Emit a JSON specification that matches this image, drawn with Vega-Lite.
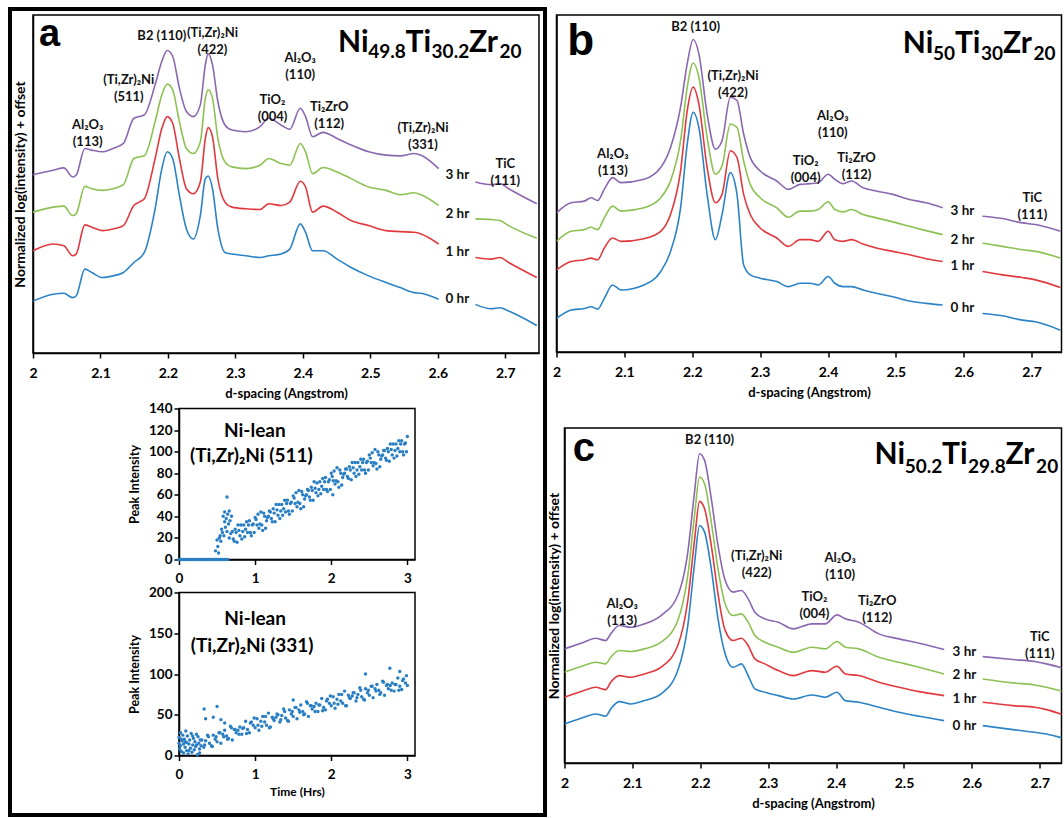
{
"$schema": "https://vega.github.io/schema/vega-lite/v6.json",
"padding": {"left": 7, "top": 6, "right": 0, "bottom": 0},
"background": "white",
"config": {
  "font": "Lato",
  "view": {"stroke": "#000", "strokeWidth": 1.5},
  "axis": {"grid": false, "domainColor": "#000", "domainWidth": 1.5, "tickColor": "#000", "tickWidth": 1.5, "labelColor": "#000", "titleColor": "#000", "labelFont": "Lato", "titleFont": "Lato", "labelFontWeight": "bold", "titleFontWeight": "bold"},
  "text": {"font": "Lato", "fontWeight": "bold", "color": "#111"}
},
"datasets": {
"curves": [
{"p":"a","h":3,"s":1,"d":2,"y":53.2},{"p":"a","h":3,"s":1,"d":2.03,"y":54.5},{"p":"a","h":3,"s":1,"d":2.0457,"y":55.2},{"p":"a","h":3,"s":1,"d":2.0587,"y":52.5},{"p":"a","h":3,"s":1,"d":2.0639,"y":53},{"p":"a","h":3,"s":1,"d":2.0769,"y":61},{"p":"a","h":3,"s":1,"d":2.0872,"y":60.5},{"p":"a","h":3,"s":1,"d":2.1028,"y":60},{"p":"a","h":3,"s":1,"d":2.1184,"y":61},{"p":"a","h":3,"s":1,"d":2.134,"y":62.5},{"p":"a","h":3,"s":1,"d":2.1495,"y":70},{"p":"a","h":3,"s":1,"d":2.1573,"y":70.5},{"p":"a","h":3,"s":1,"d":2.165,"y":71},{"p":"a","h":3,"s":1,"d":2.181,"y":80},{"p":"a","h":3,"s":1,"d":2.191,"y":87},{"p":"a","h":3,"s":1,"d":2.199,"y":90.2},{"p":"a","h":3,"s":1,"d":2.207,"y":88.5},{"p":"a","h":3,"s":1,"d":2.217,"y":79},{"p":"a","h":3,"s":1,"d":2.2274,"y":72},{"p":"a","h":3,"s":1,"d":2.2378,"y":70.5},{"p":"a","h":3,"s":1,"d":2.248,"y":74},{"p":"a","h":3,"s":1,"d":2.2555,"y":86},{"p":"a","h":3,"s":1,"d":2.2596,"y":89.2},{"p":"a","h":3,"s":1,"d":2.266,"y":86},{"p":"a","h":3,"s":1,"d":2.274,"y":75},{"p":"a","h":3,"s":1,"d":2.2845,"y":68},{"p":"a","h":3,"s":1,"d":2.295,"y":66.5},{"p":"a","h":3,"s":1,"d":2.3157,"y":66},{"p":"a","h":3,"s":1,"d":2.3365,"y":67.5},{"p":"a","h":3,"s":1,"d":2.3495,"y":70},{"p":"a","h":3,"s":1,"d":2.3676,"y":68},{"p":"a","h":3,"s":1,"d":2.3806,"y":66.7},{"p":"a","h":3,"s":1,"d":2.3962,"y":73},{"p":"a","h":3,"s":1,"d":2.404,"y":70.5},{"p":"a","h":3,"s":1,"d":2.4144,"y":64.5},{"p":"a","h":3,"s":1,"d":2.43,"y":65.8},{"p":"a","h":3,"s":1,"d":2.4507,"y":64},{"p":"a","h":3,"s":1,"d":2.4715,"y":62},{"p":"a","h":3,"s":1,"d":2.4975,"y":60},{"p":"a","h":3,"s":1,"d":2.5234,"y":59},{"p":"a","h":3,"s":1,"d":2.5442,"y":58.8},{"p":"a","h":3,"s":1,"d":2.565,"y":59.5},{"p":"a","h":3,"s":1,"d":2.5753,"y":59},{"p":"a","h":3,"s":1,"d":2.6013,"y":55},
{"p":"a","h":3,"s":2,"d":2.6558,"y":51},{"p":"a","h":3,"s":2,"d":2.679,"y":50.2},{"p":"a","h":3,"s":2,"d":2.692,"y":50.5},{"p":"a","h":3,"s":2,"d":2.705,"y":49},{"p":"a","h":3,"s":2,"d":2.7467,"y":44.5},
{"p":"a","h":2,"s":1,"d":2,"y":42},{"p":"a","h":2,"s":1,"d":2.03,"y":43.5},{"p":"a","h":2,"s":1,"d":2.0457,"y":43.8},{"p":"a","h":2,"s":1,"d":2.0587,"y":41},{"p":"a","h":2,"s":1,"d":2.0639,"y":41.5},{"p":"a","h":2,"s":1,"d":2.0769,"y":49.7},{"p":"a","h":2,"s":1,"d":2.0872,"y":49},{"p":"a","h":2,"s":1,"d":2.1028,"y":48.5},{"p":"a","h":2,"s":1,"d":2.1184,"y":49},{"p":"a","h":2,"s":1,"d":2.134,"y":50.2},{"p":"a","h":2,"s":1,"d":2.1495,"y":58},{"p":"a","h":2,"s":1,"d":2.1573,"y":58.5},{"p":"a","h":2,"s":1,"d":2.165,"y":58.8},{"p":"a","h":2,"s":1,"d":2.181,"y":69},{"p":"a","h":2,"s":1,"d":2.191,"y":77},{"p":"a","h":2,"s":1,"d":2.199,"y":80.2},{"p":"a","h":2,"s":1,"d":2.207,"y":78.5},{"p":"a","h":2,"s":1,"d":2.217,"y":69},{"p":"a","h":2,"s":1,"d":2.2274,"y":61},{"p":"a","h":2,"s":1,"d":2.2378,"y":59.5},{"p":"a","h":2,"s":1,"d":2.248,"y":63},{"p":"a","h":2,"s":1,"d":2.2555,"y":76},{"p":"a","h":2,"s":1,"d":2.2596,"y":78.5},{"p":"a","h":2,"s":1,"d":2.266,"y":76},{"p":"a","h":2,"s":1,"d":2.274,"y":64},{"p":"a","h":2,"s":1,"d":2.2845,"y":57},{"p":"a","h":2,"s":1,"d":2.295,"y":55.5},{"p":"a","h":2,"s":1,"d":2.3157,"y":55},{"p":"a","h":2,"s":1,"d":2.3365,"y":56},{"p":"a","h":2,"s":1,"d":2.3495,"y":58},{"p":"a","h":2,"s":1,"d":2.3676,"y":56.5},{"p":"a","h":2,"s":1,"d":2.3806,"y":56},{"p":"a","h":2,"s":1,"d":2.3962,"y":62.5},{"p":"a","h":2,"s":1,"d":2.404,"y":60},{"p":"a","h":2,"s":1,"d":2.4144,"y":53.5},{"p":"a","h":2,"s":1,"d":2.43,"y":55.3},{"p":"a","h":2,"s":1,"d":2.4507,"y":54},{"p":"a","h":2,"s":1,"d":2.4715,"y":52},{"p":"a","h":2,"s":1,"d":2.4975,"y":49.5},{"p":"a","h":2,"s":1,"d":2.5234,"y":48.5},{"p":"a","h":2,"s":1,"d":2.5442,"y":47.2},{"p":"a","h":2,"s":1,"d":2.565,"y":47.8},{"p":"a","h":2,"s":1,"d":2.5753,"y":47.2},{"p":"a","h":2,"s":1,"d":2.6013,"y":44},
{"p":"a","h":2,"s":2,"d":2.6558,"y":40},{"p":"a","h":2,"s":2,"d":2.679,"y":39.8},{"p":"a","h":2,"s":2,"d":2.692,"y":39.5},{"p":"a","h":2,"s":2,"d":2.705,"y":38},{"p":"a","h":2,"s":2,"d":2.7467,"y":34.2},
{"p":"a","h":1,"s":1,"d":2,"y":30.5},{"p":"a","h":1,"s":1,"d":2.03,"y":32.5},{"p":"a","h":1,"s":1,"d":2.0457,"y":32},{"p":"a","h":1,"s":1,"d":2.0587,"y":29},{"p":"a","h":1,"s":1,"d":2.0639,"y":29.5},{"p":"a","h":1,"s":1,"d":2.0769,"y":38.2},{"p":"a","h":1,"s":1,"d":2.0872,"y":37.5},{"p":"a","h":1,"s":1,"d":2.1028,"y":36.5},{"p":"a","h":1,"s":1,"d":2.1184,"y":37},{"p":"a","h":1,"s":1,"d":2.134,"y":38},{"p":"a","h":1,"s":1,"d":2.1495,"y":44},{"p":"a","h":1,"s":1,"d":2.1573,"y":45},{"p":"a","h":1,"s":1,"d":2.165,"y":46},{"p":"a","h":1,"s":1,"d":2.181,"y":58},{"p":"a","h":1,"s":1,"d":2.191,"y":67},{"p":"a","h":1,"s":1,"d":2.199,"y":70.5},{"p":"a","h":1,"s":1,"d":2.207,"y":68.5},{"p":"a","h":1,"s":1,"d":2.217,"y":58},{"p":"a","h":1,"s":1,"d":2.2274,"y":49},{"p":"a","h":1,"s":1,"d":2.2378,"y":47.5},{"p":"a","h":1,"s":1,"d":2.248,"y":51},{"p":"a","h":1,"s":1,"d":2.2555,"y":64},{"p":"a","h":1,"s":1,"d":2.2596,"y":67.2},{"p":"a","h":1,"s":1,"d":2.266,"y":64.5},{"p":"a","h":1,"s":1,"d":2.274,"y":52},{"p":"a","h":1,"s":1,"d":2.2845,"y":45},{"p":"a","h":1,"s":1,"d":2.295,"y":43.5},{"p":"a","h":1,"s":1,"d":2.3157,"y":43},{"p":"a","h":1,"s":1,"d":2.3365,"y":42.8},{"p":"a","h":1,"s":1,"d":2.3495,"y":44.5},{"p":"a","h":1,"s":1,"d":2.3676,"y":44},{"p":"a","h":1,"s":1,"d":2.3806,"y":45},{"p":"a","h":1,"s":1,"d":2.3962,"y":51.2},{"p":"a","h":1,"s":1,"d":2.404,"y":49.5},{"p":"a","h":1,"s":1,"d":2.4144,"y":42},{"p":"a","h":1,"s":1,"d":2.43,"y":43.8},{"p":"a","h":1,"s":1,"d":2.4507,"y":42},{"p":"a","h":1,"s":1,"d":2.4715,"y":39.5},{"p":"a","h":1,"s":1,"d":2.4975,"y":38},{"p":"a","h":1,"s":1,"d":2.5234,"y":36.5},{"p":"a","h":1,"s":1,"d":2.5442,"y":36.2},{"p":"a","h":1,"s":1,"d":2.565,"y":36},{"p":"a","h":1,"s":1,"d":2.5753,"y":35.5},{"p":"a","h":1,"s":1,"d":2.6013,"y":32.5},
{"p":"a","h":1,"s":2,"d":2.6558,"y":28.5},{"p":"a","h":1,"s":2,"d":2.679,"y":28},{"p":"a","h":1,"s":2,"d":2.692,"y":28.5},{"p":"a","h":1,"s":2,"d":2.705,"y":27},{"p":"a","h":1,"s":2,"d":2.7467,"y":22.5},
{"p":"a","h":0,"s":1,"d":2,"y":15.5},{"p":"a","h":0,"s":1,"d":2.03,"y":17.5},{"p":"a","h":0,"s":1,"d":2.0457,"y":17.8},{"p":"a","h":0,"s":1,"d":2.0587,"y":16.5},{"p":"a","h":0,"s":1,"d":2.0639,"y":17},{"p":"a","h":0,"s":1,"d":2.0769,"y":25},{"p":"a","h":0,"s":1,"d":2.0872,"y":24},{"p":"a","h":0,"s":1,"d":2.1028,"y":22.5},{"p":"a","h":0,"s":1,"d":2.1184,"y":23},{"p":"a","h":0,"s":1,"d":2.134,"y":24},{"p":"a","h":0,"s":1,"d":2.1495,"y":27},{"p":"a","h":0,"s":1,"d":2.165,"y":30},{"p":"a","h":0,"s":1,"d":2.181,"y":43},{"p":"a","h":0,"s":1,"d":2.191,"y":55},{"p":"a","h":0,"s":1,"d":2.199,"y":60},{"p":"a","h":0,"s":1,"d":2.207,"y":58},{"p":"a","h":0,"s":1,"d":2.217,"y":47},{"p":"a","h":0,"s":1,"d":2.2274,"y":37},{"p":"a","h":0,"s":1,"d":2.2378,"y":34},{"p":"a","h":0,"s":1,"d":2.248,"y":41},{"p":"a","h":0,"s":1,"d":2.2555,"y":52},{"p":"a","h":0,"s":1,"d":2.2596,"y":52.8},{"p":"a","h":0,"s":1,"d":2.266,"y":49},{"p":"a","h":0,"s":1,"d":2.274,"y":37},{"p":"a","h":0,"s":1,"d":2.2845,"y":30},{"p":"a","h":0,"s":1,"d":2.295,"y":29.5},{"p":"a","h":0,"s":1,"d":2.3157,"y":29},{"p":"a","h":0,"s":1,"d":2.3365,"y":28.5},{"p":"a","h":0,"s":1,"d":2.3495,"y":29},{"p":"a","h":0,"s":1,"d":2.3676,"y":29.5},{"p":"a","h":0,"s":1,"d":2.3806,"y":31},{"p":"a","h":0,"s":1,"d":2.3962,"y":38.5},{"p":"a","h":0,"s":1,"d":2.404,"y":36},{"p":"a","h":0,"s":1,"d":2.4144,"y":30.5},{"p":"a","h":0,"s":1,"d":2.43,"y":30.5},{"p":"a","h":0,"s":1,"d":2.4507,"y":28},{"p":"a","h":0,"s":1,"d":2.4715,"y":25.5},{"p":"a","h":0,"s":1,"d":2.4975,"y":23},{"p":"a","h":0,"s":1,"d":2.5234,"y":21},{"p":"a","h":0,"s":1,"d":2.5442,"y":19.5},{"p":"a","h":0,"s":1,"d":2.565,"y":18},{"p":"a","h":0,"s":1,"d":2.5753,"y":17.8},{"p":"a","h":0,"s":1,"d":2.6013,"y":16},
{"p":"a","h":0,"s":2,"d":2.6558,"y":14.5},{"p":"a","h":0,"s":2,"d":2.679,"y":13.2},{"p":"a","h":0,"s":2,"d":2.692,"y":13.5},{"p":"a","h":0,"s":2,"d":2.705,"y":12.5},{"p":"a","h":0,"s":2,"d":2.7467,"y":8.2},

{"p":"b","h":3,"s":1,"d":2,"y":41.5},{"p":"b","h":3,"s":1,"d":2.0215,"y":44.5},{"p":"b","h":3,"s":1,"d":2.041,"y":45},{"p":"b","h":3,"s":1,"d":2.0508,"y":46},{"p":"b","h":3,"s":1,"d":2.0606,"y":45.2},{"p":"b","h":3,"s":1,"d":2.0704,"y":48.5},{"p":"b","h":3,"s":1,"d":2.0826,"y":52},{"p":"b","h":3,"s":1,"d":2.0948,"y":50.5},{"p":"b","h":3,"s":1,"d":2.129,"y":51.5},{"p":"b","h":3,"s":1,"d":2.1535,"y":55},{"p":"b","h":3,"s":1,"d":2.168,"y":61},{"p":"b","h":3,"s":1,"d":2.1828,"y":73},{"p":"b","h":3,"s":1,"d":2.1926,"y":86},{"p":"b","h":3,"s":1,"d":2.2014,"y":93.2},{"p":"b","h":3,"s":1,"d":2.2097,"y":89},{"p":"b","h":3,"s":1,"d":2.2219,"y":71},{"p":"b","h":3,"s":1,"d":2.2341,"y":60.5},{"p":"b","h":3,"s":1,"d":2.2439,"y":63},{"p":"b","h":3,"s":1,"d":2.2561,"y":76},{"p":"b","h":3,"s":1,"d":2.2659,"y":75},{"p":"b","h":3,"s":1,"d":2.2757,"y":65},{"p":"b","h":3,"s":1,"d":2.2854,"y":58},{"p":"b","h":3,"s":1,"d":2.3001,"y":54},{"p":"b","h":3,"s":1,"d":2.3245,"y":51},{"p":"b","h":3,"s":1,"d":2.3416,"y":48.5},{"p":"b","h":3,"s":1,"d":2.3587,"y":50},{"p":"b","h":3,"s":1,"d":2.3734,"y":50.2},{"p":"b","h":3,"s":1,"d":2.3856,"y":50.5},{"p":"b","h":3,"s":1,"d":2.4003,"y":53},{"p":"b","h":3,"s":1,"d":2.4101,"y":51.5},{"p":"b","h":3,"s":1,"d":2.4223,"y":50.2},{"p":"b","h":3,"s":1,"d":2.4345,"y":51},{"p":"b","h":3,"s":1,"d":2.4516,"y":49},{"p":"b","h":3,"s":1,"d":2.4712,"y":48},{"p":"b","h":3,"s":1,"d":2.4956,"y":47},{"p":"b","h":3,"s":1,"d":2.52,"y":45.5},{"p":"b","h":3,"s":1,"d":2.5445,"y":44.5},{"p":"b","h":3,"s":1,"d":2.5689,"y":43},
{"p":"b","h":3,"s":2,"d":2.6276,"y":40.5},{"p":"b","h":3,"s":2,"d":2.6569,"y":39.8},{"p":"b","h":3,"s":2,"d":2.6862,"y":38.5},{"p":"b","h":3,"s":2,"d":2.7058,"y":38},{"p":"b","h":3,"s":2,"d":2.7424,"y":36},
{"p":"b","h":2,"s":1,"d":2,"y":33},{"p":"b","h":2,"s":1,"d":2.0215,"y":36},{"p":"b","h":2,"s":1,"d":2.041,"y":36.5},{"p":"b","h":2,"s":1,"d":2.0508,"y":37.2},{"p":"b","h":2,"s":1,"d":2.0606,"y":36.5},{"p":"b","h":2,"s":1,"d":2.0704,"y":40},{"p":"b","h":2,"s":1,"d":2.0826,"y":43.5},{"p":"b","h":2,"s":1,"d":2.0948,"y":42},{"p":"b","h":2,"s":1,"d":2.129,"y":43},{"p":"b","h":2,"s":1,"d":2.1535,"y":46},{"p":"b","h":2,"s":1,"d":2.168,"y":51},{"p":"b","h":2,"s":1,"d":2.1828,"y":63},{"p":"b","h":2,"s":1,"d":2.1926,"y":79},{"p":"b","h":2,"s":1,"d":2.2014,"y":86.2},{"p":"b","h":2,"s":1,"d":2.2097,"y":82},{"p":"b","h":2,"s":1,"d":2.2219,"y":64},{"p":"b","h":2,"s":1,"d":2.2341,"y":53},{"p":"b","h":2,"s":1,"d":2.2439,"y":55.5},{"p":"b","h":2,"s":1,"d":2.2561,"y":68},{"p":"b","h":2,"s":1,"d":2.2659,"y":67},{"p":"b","h":2,"s":1,"d":2.2757,"y":57},{"p":"b","h":2,"s":1,"d":2.2854,"y":50},{"p":"b","h":2,"s":1,"d":2.3001,"y":46},{"p":"b","h":2,"s":1,"d":2.3245,"y":43},{"p":"b","h":2,"s":1,"d":2.3416,"y":40.2},{"p":"b","h":2,"s":1,"d":2.3587,"y":42},{"p":"b","h":2,"s":1,"d":2.3734,"y":42},{"p":"b","h":2,"s":1,"d":2.3856,"y":42.5},{"p":"b","h":2,"s":1,"d":2.4003,"y":44.8},{"p":"b","h":2,"s":1,"d":2.4101,"y":42.5},{"p":"b","h":2,"s":1,"d":2.4223,"y":41.8},{"p":"b","h":2,"s":1,"d":2.4345,"y":42.5},{"p":"b","h":2,"s":1,"d":2.4516,"y":41},{"p":"b","h":2,"s":1,"d":2.4712,"y":40},{"p":"b","h":2,"s":1,"d":2.4956,"y":38.8},{"p":"b","h":2,"s":1,"d":2.52,"y":37.5},{"p":"b","h":2,"s":1,"d":2.5445,"y":36.2},{"p":"b","h":2,"s":1,"d":2.5689,"y":35},
{"p":"b","h":2,"s":2,"d":2.6276,"y":32.5},{"p":"b","h":2,"s":2,"d":2.6569,"y":31.5},{"p":"b","h":2,"s":2,"d":2.6862,"y":30.5},{"p":"b","h":2,"s":2,"d":2.7058,"y":30},{"p":"b","h":2,"s":2,"d":2.7424,"y":28},
{"p":"b","h":1,"s":1,"d":2,"y":24.5},{"p":"b","h":1,"s":1,"d":2.0215,"y":27},{"p":"b","h":1,"s":1,"d":2.041,"y":27.5},{"p":"b","h":1,"s":1,"d":2.0508,"y":28},{"p":"b","h":1,"s":1,"d":2.0606,"y":27.5},{"p":"b","h":1,"s":1,"d":2.0704,"y":31},{"p":"b","h":1,"s":1,"d":2.0826,"y":34},{"p":"b","h":1,"s":1,"d":2.0948,"y":33},{"p":"b","h":1,"s":1,"d":2.129,"y":33.8},{"p":"b","h":1,"s":1,"d":2.1535,"y":36},{"p":"b","h":1,"s":1,"d":2.168,"y":41},{"p":"b","h":1,"s":1,"d":2.1828,"y":54},{"p":"b","h":1,"s":1,"d":2.1926,"y":72},{"p":"b","h":1,"s":1,"d":2.2014,"y":79},{"p":"b","h":1,"s":1,"d":2.2097,"y":74},{"p":"b","h":1,"s":1,"d":2.2219,"y":55},{"p":"b","h":1,"s":1,"d":2.2341,"y":44.5},{"p":"b","h":1,"s":1,"d":2.2439,"y":47},{"p":"b","h":1,"s":1,"d":2.2561,"y":60},{"p":"b","h":1,"s":1,"d":2.2659,"y":58},{"p":"b","h":1,"s":1,"d":2.2757,"y":47},{"p":"b","h":1,"s":1,"d":2.2854,"y":41},{"p":"b","h":1,"s":1,"d":2.3001,"y":37},{"p":"b","h":1,"s":1,"d":2.3245,"y":34},{"p":"b","h":1,"s":1,"d":2.3416,"y":31.5},{"p":"b","h":1,"s":1,"d":2.3587,"y":33.5},{"p":"b","h":1,"s":1,"d":2.3734,"y":33.5},{"p":"b","h":1,"s":1,"d":2.3856,"y":33},{"p":"b","h":1,"s":1,"d":2.4003,"y":36},{"p":"b","h":1,"s":1,"d":2.4101,"y":33.5},{"p":"b","h":1,"s":1,"d":2.4223,"y":33},{"p":"b","h":1,"s":1,"d":2.4345,"y":33.5},{"p":"b","h":1,"s":1,"d":2.4516,"y":32.2},{"p":"b","h":1,"s":1,"d":2.4712,"y":31},{"p":"b","h":1,"s":1,"d":2.4956,"y":30},{"p":"b","h":1,"s":1,"d":2.52,"y":29},{"p":"b","h":1,"s":1,"d":2.5445,"y":27.8},{"p":"b","h":1,"s":1,"d":2.5689,"y":27},
{"p":"b","h":1,"s":2,"d":2.6276,"y":24},{"p":"b","h":1,"s":2,"d":2.6569,"y":23},{"p":"b","h":1,"s":2,"d":2.6862,"y":22.2},{"p":"b","h":1,"s":2,"d":2.7058,"y":21.5},{"p":"b","h":1,"s":2,"d":2.7424,"y":19.2},
{"p":"b","h":0,"s":1,"d":2,"y":10},{"p":"b","h":0,"s":1,"d":2.0215,"y":12.5},{"p":"b","h":0,"s":1,"d":2.041,"y":13},{"p":"b","h":0,"s":1,"d":2.0508,"y":13.5},{"p":"b","h":0,"s":1,"d":2.0606,"y":12.8},{"p":"b","h":0,"s":1,"d":2.0704,"y":16},{"p":"b","h":0,"s":1,"d":2.0826,"y":20},{"p":"b","h":0,"s":1,"d":2.0948,"y":18.5},{"p":"b","h":0,"s":1,"d":2.129,"y":20},{"p":"b","h":0,"s":1,"d":2.1535,"y":24},{"p":"b","h":0,"s":1,"d":2.168,"y":30},{"p":"b","h":0,"s":1,"d":2.1828,"y":43},{"p":"b","h":0,"s":1,"d":2.1926,"y":62},{"p":"b","h":0,"s":1,"d":2.2014,"y":71.5},{"p":"b","h":0,"s":1,"d":2.2097,"y":67},{"p":"b","h":0,"s":1,"d":2.2219,"y":47},{"p":"b","h":0,"s":1,"d":2.2341,"y":33.5},{"p":"b","h":0,"s":1,"d":2.2439,"y":41},{"p":"b","h":0,"s":1,"d":2.2561,"y":53.5},{"p":"b","h":0,"s":1,"d":2.2659,"y":47},{"p":"b","h":0,"s":1,"d":2.2757,"y":26},{"p":"b","h":0,"s":1,"d":2.2854,"y":23},{"p":"b","h":0,"s":1,"d":2.3001,"y":22},{"p":"b","h":0,"s":1,"d":2.3245,"y":21},{"p":"b","h":0,"s":1,"d":2.3416,"y":19.5},{"p":"b","h":0,"s":1,"d":2.3587,"y":20.5},{"p":"b","h":0,"s":1,"d":2.3734,"y":20.5},{"p":"b","h":0,"s":1,"d":2.3856,"y":20},{"p":"b","h":0,"s":1,"d":2.4003,"y":22.5},{"p":"b","h":0,"s":1,"d":2.4101,"y":20.5},{"p":"b","h":0,"s":1,"d":2.4223,"y":19.5},{"p":"b","h":0,"s":1,"d":2.4345,"y":19.5},{"p":"b","h":0,"s":1,"d":2.4516,"y":18.5},{"p":"b","h":0,"s":1,"d":2.4712,"y":17.5},{"p":"b","h":0,"s":1,"d":2.4956,"y":16.5},{"p":"b","h":0,"s":1,"d":2.52,"y":15.2},{"p":"b","h":0,"s":1,"d":2.5445,"y":14.5},{"p":"b","h":0,"s":1,"d":2.5689,"y":14},
{"p":"b","h":0,"s":2,"d":2.6276,"y":11.5},{"p":"b","h":0,"s":2,"d":2.6569,"y":10.8},{"p":"b","h":0,"s":2,"d":2.6862,"y":9.5},{"p":"b","h":0,"s":2,"d":2.7058,"y":9},{"p":"b","h":0,"s":2,"d":2.7424,"y":6.5},

{"p":"c","h":3,"s":1,"d":2,"y":34.2},{"p":"c","h":3,"s":1,"d":2.0286,"y":36.2},{"p":"c","h":3,"s":1,"d":2.0459,"y":37.4},{"p":"c","h":3,"s":1,"d":2.0607,"y":36.7},{"p":"c","h":3,"s":1,"d":2.0681,"y":38.7},{"p":"c","h":3,"s":1,"d":2.0805,"y":41.2},{"p":"c","h":3,"s":1,"d":2.0977,"y":40.7},{"p":"c","h":3,"s":1,"d":2.1175,"y":41.7},{"p":"c","h":3,"s":1,"d":2.1422,"y":44.2},{"p":"c","h":3,"s":1,"d":2.1668,"y":50.2},{"p":"c","h":3,"s":1,"d":2.1816,"y":63.2},{"p":"c","h":3,"s":1,"d":2.1915,"y":81.2},{"p":"c","h":3,"s":1,"d":2.1989,"y":92.7},{"p":"c","h":3,"s":1,"d":2.2063,"y":90.7},{"p":"c","h":3,"s":1,"d":2.2162,"y":79.2},{"p":"c","h":3,"s":1,"d":2.2261,"y":65.2},{"p":"c","h":3,"s":1,"d":2.2359,"y":55.2},{"p":"c","h":3,"s":1,"d":2.2483,"y":51.2},{"p":"c","h":3,"s":1,"d":2.2606,"y":51.7},{"p":"c","h":3,"s":1,"d":2.2705,"y":49.2},{"p":"c","h":3,"s":1,"d":2.2804,"y":45.2},{"p":"c","h":3,"s":1,"d":2.2952,"y":43.2},{"p":"c","h":3,"s":1,"d":2.3149,"y":42.2},{"p":"c","h":3,"s":1,"d":2.3371,"y":40.2},{"p":"c","h":3,"s":1,"d":2.3643,"y":41.7},{"p":"c","h":3,"s":1,"d":2.384,"y":41.7},{"p":"c","h":3,"s":1,"d":2.4013,"y":44.4},{"p":"c","h":3,"s":1,"d":2.4136,"y":43.2},{"p":"c","h":3,"s":1,"d":2.4334,"y":42.2},{"p":"c","h":3,"s":1,"d":2.463,"y":38.7},{"p":"c","h":3,"s":1,"d":2.4926,"y":37.2},{"p":"c","h":3,"s":1,"d":2.5222,"y":35.9},{"p":"c","h":3,"s":1,"d":2.5592,"y":34},
{"p":"c","h":3,"s":2,"d":2.616,"y":31.9},{"p":"c","h":3,"s":2,"d":2.6604,"y":31},{"p":"c","h":3,"s":2,"d":2.6925,"y":30.4},{"p":"c","h":3,"s":2,"d":2.7098,"y":29.7},{"p":"c","h":3,"s":2,"d":2.7379,"y":28.2},
{"p":"c","h":2,"s":1,"d":2,"y":27.2},{"p":"c","h":2,"s":1,"d":2.0286,"y":29.2},{"p":"c","h":2,"s":1,"d":2.0459,"y":30.2},{"p":"c","h":2,"s":1,"d":2.0607,"y":29.7},{"p":"c","h":2,"s":1,"d":2.0681,"y":31.7},{"p":"c","h":2,"s":1,"d":2.0805,"y":33.7},{"p":"c","h":2,"s":1,"d":2.0977,"y":33.4},{"p":"c","h":2,"s":1,"d":2.1175,"y":34.2},{"p":"c","h":2,"s":1,"d":2.1422,"y":36.2},{"p":"c","h":2,"s":1,"d":2.1668,"y":42.7},{"p":"c","h":2,"s":1,"d":2.1816,"y":56.2},{"p":"c","h":2,"s":1,"d":2.1915,"y":74.2},{"p":"c","h":2,"s":1,"d":2.1989,"y":85.7},{"p":"c","h":2,"s":1,"d":2.2063,"y":83.7},{"p":"c","h":2,"s":1,"d":2.2162,"y":72.2},{"p":"c","h":2,"s":1,"d":2.2261,"y":58.2},{"p":"c","h":2,"s":1,"d":2.2359,"y":48.2},{"p":"c","h":2,"s":1,"d":2.2483,"y":44.2},{"p":"c","h":2,"s":1,"d":2.2606,"y":44.7},{"p":"c","h":2,"s":1,"d":2.2705,"y":42.2},{"p":"c","h":2,"s":1,"d":2.2804,"y":38.2},{"p":"c","h":2,"s":1,"d":2.2952,"y":36.2},{"p":"c","h":2,"s":1,"d":2.3149,"y":34.7},{"p":"c","h":2,"s":1,"d":2.3371,"y":33.2},{"p":"c","h":2,"s":1,"d":2.3643,"y":34.7},{"p":"c","h":2,"s":1,"d":2.384,"y":34.2},{"p":"c","h":2,"s":1,"d":2.4013,"y":36.4},{"p":"c","h":2,"s":1,"d":2.4136,"y":34.7},{"p":"c","h":2,"s":1,"d":2.4334,"y":34.2},{"p":"c","h":2,"s":1,"d":2.463,"y":31.7},{"p":"c","h":2,"s":1,"d":2.4926,"y":30.2},{"p":"c","h":2,"s":1,"d":2.5222,"y":28.7},{"p":"c","h":2,"s":1,"d":2.5592,"y":26.7},
{"p":"c","h":2,"s":2,"d":2.616,"y":25.2},{"p":"c","h":2,"s":2,"d":2.6604,"y":24},{"p":"c","h":2,"s":2,"d":2.6925,"y":23.4},{"p":"c","h":2,"s":2,"d":2.7098,"y":22.7},{"p":"c","h":2,"s":2,"d":2.7379,"y":21.2},
{"p":"c","h":1,"s":1,"d":2,"y":19.7},{"p":"c","h":1,"s":1,"d":2.0286,"y":21.7},{"p":"c","h":1,"s":1,"d":2.0459,"y":22.7},{"p":"c","h":1,"s":1,"d":2.0607,"y":22},{"p":"c","h":1,"s":1,"d":2.0681,"y":24.2},{"p":"c","h":1,"s":1,"d":2.0805,"y":26.2},{"p":"c","h":1,"s":1,"d":2.0977,"y":25.7},{"p":"c","h":1,"s":1,"d":2.1175,"y":26.7},{"p":"c","h":1,"s":1,"d":2.1422,"y":28.7},{"p":"c","h":1,"s":1,"d":2.1668,"y":35.2},{"p":"c","h":1,"s":1,"d":2.1816,"y":48.7},{"p":"c","h":1,"s":1,"d":2.1915,"y":66.7},{"p":"c","h":1,"s":1,"d":2.1989,"y":78.4},{"p":"c","h":1,"s":1,"d":2.2063,"y":76.2},{"p":"c","h":1,"s":1,"d":2.2162,"y":65.2},{"p":"c","h":1,"s":1,"d":2.2261,"y":50.7},{"p":"c","h":1,"s":1,"d":2.2359,"y":40.2},{"p":"c","h":1,"s":1,"d":2.2483,"y":36.7},{"p":"c","h":1,"s":1,"d":2.2606,"y":37.4},{"p":"c","h":1,"s":1,"d":2.2705,"y":35.2},{"p":"c","h":1,"s":1,"d":2.2804,"y":31.2},{"p":"c","h":1,"s":1,"d":2.2952,"y":29.7},{"p":"c","h":1,"s":1,"d":2.3149,"y":27.7},{"p":"c","h":1,"s":1,"d":2.3371,"y":26.2},{"p":"c","h":1,"s":1,"d":2.3643,"y":27.7},{"p":"c","h":1,"s":1,"d":2.384,"y":27.2},{"p":"c","h":1,"s":1,"d":2.4013,"y":29},{"p":"c","h":1,"s":1,"d":2.4136,"y":26.7},{"p":"c","h":1,"s":1,"d":2.4334,"y":26.2},{"p":"c","h":1,"s":1,"d":2.463,"y":24.2},{"p":"c","h":1,"s":1,"d":2.4926,"y":22.7},{"p":"c","h":1,"s":1,"d":2.5222,"y":21.4},{"p":"c","h":1,"s":1,"d":2.5592,"y":20.2},
{"p":"c","h":1,"s":2,"d":2.616,"y":18.2},{"p":"c","h":1,"s":2,"d":2.6604,"y":17.2},{"p":"c","h":1,"s":2,"d":2.6925,"y":16.7},{"p":"c","h":1,"s":2,"d":2.7098,"y":16},{"p":"c","h":1,"s":2,"d":2.7379,"y":14.2},
{"p":"c","h":0,"s":1,"d":2,"y":11.7},{"p":"c","h":0,"s":1,"d":2.0286,"y":13.7},{"p":"c","h":0,"s":1,"d":2.0459,"y":14.7},{"p":"c","h":0,"s":1,"d":2.0607,"y":14},{"p":"c","h":0,"s":1,"d":2.0681,"y":16.2},{"p":"c","h":0,"s":1,"d":2.0805,"y":18.4},{"p":"c","h":0,"s":1,"d":2.0977,"y":17.7},{"p":"c","h":0,"s":1,"d":2.1175,"y":18.7},{"p":"c","h":0,"s":1,"d":2.1422,"y":20.7},{"p":"c","h":0,"s":1,"d":2.1668,"y":27.7},{"p":"c","h":0,"s":1,"d":2.1816,"y":41.2},{"p":"c","h":0,"s":1,"d":2.1915,"y":59.7},{"p":"c","h":0,"s":1,"d":2.1989,"y":71.2},{"p":"c","h":0,"s":1,"d":2.2063,"y":69.2},{"p":"c","h":0,"s":1,"d":2.2162,"y":58.2},{"p":"c","h":0,"s":1,"d":2.2261,"y":43.2},{"p":"c","h":0,"s":1,"d":2.2359,"y":33.2},{"p":"c","h":0,"s":1,"d":2.2483,"y":28.7},{"p":"c","h":0,"s":1,"d":2.2606,"y":29.7},{"p":"c","h":0,"s":1,"d":2.2705,"y":26.2},{"p":"c","h":0,"s":1,"d":2.2804,"y":22.2},{"p":"c","h":0,"s":1,"d":2.2952,"y":21.2},{"p":"c","h":0,"s":1,"d":2.3149,"y":20.2},{"p":"c","h":0,"s":1,"d":2.3371,"y":19.2},{"p":"c","h":0,"s":1,"d":2.3643,"y":20.4},{"p":"c","h":0,"s":1,"d":2.384,"y":19.7},{"p":"c","h":0,"s":1,"d":2.4013,"y":21.2},{"p":"c","h":0,"s":1,"d":2.4136,"y":18.7},{"p":"c","h":0,"s":1,"d":2.4334,"y":18.2},{"p":"c","h":0,"s":1,"d":2.463,"y":16.7},{"p":"c","h":0,"s":1,"d":2.4926,"y":15.2},{"p":"c","h":0,"s":1,"d":2.5222,"y":14},{"p":"c","h":0,"s":1,"d":2.5592,"y":12.7},
{"p":"c","h":0,"s":2,"d":2.616,"y":11.2},{"p":"c","h":0,"s":2,"d":2.6604,"y":10},{"p":"c","h":0,"s":2,"d":2.6925,"y":9.2},{"p":"c","h":0,"s":2,"d":2.7098,"y":8.7},{"p":"c","h":0,"s":2,"d":2.7379,"y":7.2}
],
"labels": [
{"p":"a","d":2.191,"y":94.5,"txt":"B2 (110)"},
{"p":"a","d":2.266,"y":95.4,"txt":"(Ti,Zr)₂Ni\n(422)"},
{"p":"a","d":2.142,"y":81.4,"txt":"(Ti,Zr)₂Ni\n(511)"},
{"p":"a","d":2.081,"y":68,"txt":"Al₂O₃\n(113)"},
{"p":"a","d":2.355,"y":75.4,"txt":"TiO₂\n(004)"},
{"p":"a","d":2.396,"y":87.9,"txt":"Al₂O₃\n(110)"},
{"p":"a","d":2.439,"y":73.4,"txt":"Ti₂ZrO\n(112)"},
{"p":"a","d":2.578,"y":67.2,"txt":"(Ti,Zr)₂Ni\n(331)"},
{"p":"a","d":2.7,"y":56.3,"txt":"TiC\n(111)"},
{"p":"b","d":2.205,"y":97,"txt":"B2 (110)"},
{"p":"b","d":2.26,"y":82.4,"txt":"(Ti,Zr)₂Ni\n(422)"},
{"p":"b","d":2.083,"y":58.9,"txt":"Al₂O₃\n(113)"},
{"p":"b","d":2.367,"y":57,"txt":"TiO₂\n(004)"},
{"p":"b","d":2.407,"y":70.3,"txt":"Al₂O₃\n(110)"},
{"p":"b","d":2.442,"y":58,"txt":"Ti₂ZrO\n(112)"},
{"p":"b","d":2.701,"y":45.9,"txt":"TiC\n(111)"},
{"p":"c","d":2.2137,"y":96.7,"txt":"B2 (110)"},
{"p":"c","d":2.283,"y":62,"txt":"(Ti,Zr)₂Ni\n(422)"},
{"p":"c","d":2.085,"y":47.8,"txt":"Al₂O₃\n(113)"},
{"p":"c","d":2.368,"y":49.8,"txt":"TiO₂\n(004)"},
{"p":"c","d":2.406,"y":61.5,"txt":"Al₂O₃\n(110)"},
{"p":"c","d":2.4605,"y":48.6,"txt":"Ti₂ZrO\n(112)"},
{"p":"c","d":2.7,"y":37.7,"txt":"TiC\n(111)"}
],
"hrs": [
{"p":"a","d":2.629,"y":53,"txt":"3 hr"},{"p":"a","d":2.629,"y":41.5,"txt":"2 hr"},{"p":"a","d":2.629,"y":30,"txt":"1 hr"},{"p":"a","d":2.629,"y":16,"txt":"0 hr"},
{"p":"b","d":2.598,"y":42,"txt":"3 hr"},{"p":"b","d":2.598,"y":33.5,"txt":"2 hr"},{"p":"b","d":2.598,"y":25.5,"txt":"1 hr"},{"p":"b","d":2.598,"y":13,"txt":"0 hr"},
{"p":"c","d":2.589,"y":33.4,"txt":"3 hr"},{"p":"c","d":2.589,"y":26.4,"txt":"2 hr"},{"p":"c","d":2.589,"y":19.2,"txt":"1 hr"},{"p":"c","d":2.589,"y":11.2,"txt":"0 hr"}
],
"letters": [
{"p":"a","d":2.009,"y":91.6,"txt":"a"},{"p":"b","d":2.016,"y":88.6,"txt":"b"},{"p":"c","d":2.012,"y":90.5,"txt":"c"}
],
"tbig": [
{"p":"a","d":2.4521,"y":89.8,"txt":"Ni"},{"p":"a","d":2.5523,"y":89.8,"txt":"Ti"},{"p":"a","d":2.6462,"y":89.8,"txt":"Zr"},
{"p":"b","d":2.5102,"y":89.1,"txt":"Ni"},{"p":"b","d":2.5871,"y":89.1,"txt":"Ti"},{"p":"b","d":2.6578,"y":89.1,"txt":"Zr"},
{"p":"c","d":2.4566,"y":89.5,"txt":"Ni"},{"p":"c","d":2.5561,"y":89.5,"txt":"Ti"},{"p":"c","d":2.6495,"y":89.5,"txt":"Zr"}
],
"tsub": [
{"p":"a","d":2.4968,"y":88,"txt":"49.8"},{"p":"a","d":2.5908,"y":88,"txt":"30.2"},{"p":"a","d":2.6916,"y":88,"txt":"20"},
{"p":"b","d":2.5547,"y":87.1,"txt":"50"},{"p":"b","d":2.6254,"y":87.1,"txt":"30"},{"p":"b","d":2.7029,"y":87.1,"txt":"20"},
{"p":"c","d":2.501,"y":87,"txt":"50.2"},{"p":"c","d":2.5944,"y":87,"txt":"29.8"},{"p":"c","d":2.6946,"y":87,"txt":"20"}
],
"frame": [{"d":1.9659,"d2":2.7589,"y":-137.78,"y2":102.59}],
"sclab": [
{"p":"t","t":0.996,"v":113.4,"txt":"Ni-lean"},{"p":"t","t":0.95,"v":90.2,"txt":"(Ti,Zr)₂Ni (511)"},
{"p":"b","t":1.0,"v":160.7,"txt":"Ni-lean"},{"p":"b","t":0.96,"v":126.4,"txt":"(Ti,Zr)₂Ni (331)"}
],
"sc": [
{"p":"t","t":0,"v":0},{"p":"t","t":0.02,"v":0},{"p":"t","t":0.04,"v":0},{"p":"t","t":0.06,"v":0},{"p":"t","t":0.08,"v":0},{"p":"t","t":0.1,"v":0},{"p":"t","t":0.12,"v":0},{"p":"t","t":0.14,"v":0},{"p":"t","t":0.16,"v":0},{"p":"t","t":0.18,"v":0},{"p":"t","t":0.2,"v":0},{"p":"t","t":0.22,"v":0},{"p":"t","t":0.24,"v":0},{"p":"t","t":0.26,"v":0},{"p":"t","t":0.28,"v":0},{"p":"t","t":0.3,"v":0},{"p":"t","t":0.32,"v":0},{"p":"t","t":0.34,"v":0},{"p":"t","t":0.36,"v":0},{"p":"t","t":0.38,"v":0},{"p":"t","t":0.4,"v":0},{"p":"t","t":0.42,"v":0},{"p":"t","t":0.44,"v":0},{"p":"t","t":0.46,"v":0},{"p":"t","t":0.48,"v":0},{"p":"t","t":0.5,"v":0},{"p":"t","t":0.52,"v":0},{"p":"t","t":0.54,"v":0},{"p":"t","t":0.56,"v":0},{"p":"t","t":0.58,"v":0},{"p":"t","t":0.6,"v":0},{"p":"t","t":0.62,"v":0},{"p":"t","t":0.64,"v":0},
{"p":"t","t":0.48,"v":8},{"p":"t","t":0.5,"v":18},{"p":"t","t":0.51,"v":12},{"p":"t","t":0.52,"v":6},{"p":"t","t":0.53,"v":20},{"p":"t","t":0.54,"v":22},{"p":"t","t":0.55,"v":17},{"p":"t","t":0.56,"v":28},{"p":"t","t":0.57,"v":25},{"p":"t","t":0.58,"v":40},{"p":"t","t":0.59,"v":22},{"p":"t","t":0.6,"v":35},{"p":"t","t":0.6,"v":44},{"p":"t","t":0.61,"v":30},{"p":"t","t":0.62,"v":38},{"p":"t","t":0.63,"v":58},{"p":"t","t":0.63,"v":26},{"p":"t","t":0.64,"v":42},{"p":"t","t":0.65,"v":33},{"p":"t","t":0.66,"v":20},{"p":"t","t":0.66,"v":45},{"p":"t","t":0.67,"v":36},{"p":"t","t":0.68,"v":24},{"p":"t","t":0.69,"v":40},{"p":"t","t":2.02,"v":60},
{"p":"t","t":0.7,"v":26},{"p":"t","t":0.725,"v":17},{"p":"t","t":0.75,"v":25},{"p":"t","t":0.775,"v":32},{"p":"t","t":0.8,"v":22},{"p":"t","t":0.825,"v":19},{"p":"t","t":0.85,"v":32},{"p":"t","t":0.875,"v":28},{"p":"t","t":0.9,"v":25},{"p":"t","t":0.925,"v":36},{"p":"t","t":0.95,"v":22},{"p":"t","t":0.975,"v":33},{"p":"t","t":1,"v":39},{"p":"t","t":1.025,"v":32},{"p":"t","t":1.05,"v":29},{"p":"t","t":1.075,"v":44},{"p":"t","t":1.1,"v":27},{"p":"t","t":1.125,"v":40},{"p":"t","t":1.15,"v":36},{"p":"t","t":1.175,"v":40},{"p":"t","t":1.2,"v":44},{"p":"t","t":1.225,"v":35},{"p":"t","t":1.25,"v":43},{"p":"t","t":1.275,"v":51},{"p":"t","t":1.3,"v":41},{"p":"t","t":1.325,"v":38},{"p":"t","t":1.35,"v":51},{"p":"t","t":1.375,"v":47},{"p":"t","t":1.4,"v":44},{"p":"t","t":1.425,"v":55},{"p":"t","t":1.45,"v":42},{"p":"t","t":1.475,"v":53},{"p":"t","t":1.5,"v":59},{"p":"t","t":1.525,"v":52},{"p":"t","t":1.55,"v":49},{"p":"t","t":1.575,"v":64},{"p":"t","t":1.6,"v":47},{"p":"t","t":1.625,"v":60},{"p":"t","t":1.65,"v":56},{"p":"t","t":1.675,"v":60},{"p":"t","t":1.7,"v":64},{"p":"t","t":1.725,"v":55},{"p":"t","t":1.75,"v":64},{"p":"t","t":1.775,"v":72},{"p":"t","t":1.8,"v":62},{"p":"t","t":1.825,"v":59},{"p":"t","t":1.85,"v":72},{"p":"t","t":1.875,"v":68},{"p":"t","t":1.9,"v":65},{"p":"t","t":1.925,"v":76},{"p":"t","t":1.95,"v":63},{"p":"t","t":1.975,"v":74},{"p":"t","t":2,"v":80},{"p":"t","t":2.025,"v":73},{"p":"t","t":2.05,"v":70},{"p":"t","t":2.075,"v":85},{"p":"t","t":2.1,"v":67},{"p":"t","t":2.125,"v":80},{"p":"t","t":2.15,"v":76},{"p":"t","t":2.175,"v":80},{"p":"t","t":2.2,"v":84},{"p":"t","t":2.225,"v":75},{"p":"t","t":2.25,"v":83},{"p":"t","t":2.275,"v":90},{"p":"t","t":2.3,"v":80},{"p":"t","t":2.325,"v":77},{"p":"t","t":2.35,"v":90},{"p":"t","t":2.375,"v":86},{"p":"t","t":2.4,"v":83},{"p":"t","t":2.425,"v":93},{"p":"t","t":2.45,"v":80},{"p":"t","t":2.475,"v":91},{"p":"t","t":2.5,"v":97},{"p":"t","t":2.525,"v":90},{"p":"t","t":2.55,"v":87},{"p":"t","t":2.575,"v":102},{"p":"t","t":2.6,"v":84},{"p":"t","t":2.625,"v":97},{"p":"t","t":2.65,"v":93},{"p":"t","t":2.675,"v":97},{"p":"t","t":2.7,"v":101},{"p":"t","t":2.725,"v":92},{"p":"t","t":2.75,"v":100},{"p":"t","t":2.775,"v":107},{"p":"t","t":2.8,"v":97},{"p":"t","t":2.825,"v":94},{"p":"t","t":2.85,"v":107},{"p":"t","t":2.875,"v":103},{"p":"t","t":2.9,"v":100},{"p":"t","t":2.925,"v":110},{"p":"t","t":2.95,"v":97},{"p":"t","t":2.975,"v":108},{"p":"t","t":3,"v":114},
{"p":"t","t":0.7125,"v":19},{"p":"t","t":0.7375,"v":28},{"p":"t","t":0.7625,"v":16},{"p":"t","t":0.7875,"v":27},{"p":"t","t":0.8125,"v":32},{"p":"t","t":0.8375,"v":26},{"p":"t","t":0.8625,"v":21},{"p":"t","t":0.8875,"v":35},{"p":"t","t":0.9125,"v":32},{"p":"t","t":0.9375,"v":25},{"p":"t","t":0.9625,"v":32},{"p":"t","t":0.9875,"v":25},{"p":"t","t":1.0125,"v":37},{"p":"t","t":1.0375,"v":42},{"p":"t","t":1.0625,"v":33},{"p":"t","t":1.0875,"v":32},{"p":"t","t":1.1125,"v":43},{"p":"t","t":1.1375,"v":29},{"p":"t","t":1.1625,"v":39},{"p":"t","t":1.1875,"v":45},{"p":"t","t":1.2125,"v":38},{"p":"t","t":1.2375,"v":47},{"p":"t","t":1.2625,"v":35},{"p":"t","t":1.2875,"v":46},{"p":"t","t":1.3125,"v":51},{"p":"t","t":1.3375,"v":45},{"p":"t","t":1.3625,"v":41},{"p":"t","t":1.3875,"v":55},{"p":"t","t":1.4125,"v":52},{"p":"t","t":1.4375,"v":45},{"p":"t","t":1.4625,"v":52},{"p":"t","t":1.4875,"v":45},{"p":"t","t":1.5125,"v":57},{"p":"t","t":1.5375,"v":62},{"p":"t","t":1.5625,"v":53},{"p":"t","t":1.5875,"v":52},{"p":"t","t":1.6125,"v":63},{"p":"t","t":1.6375,"v":49},{"p":"t","t":1.6625,"v":59},{"p":"t","t":1.6875,"v":65},{"p":"t","t":1.7125,"v":58},{"p":"t","t":1.7375,"v":67},{"p":"t","t":1.7625,"v":55},{"p":"t","t":1.7875,"v":66},{"p":"t","t":1.8125,"v":71},{"p":"t","t":1.8375,"v":65},{"p":"t","t":1.8625,"v":61},{"p":"t","t":1.8875,"v":75},{"p":"t","t":1.9125,"v":72},{"p":"t","t":1.9375,"v":65},{"p":"t","t":1.9625,"v":72},{"p":"t","t":1.9875,"v":65},{"p":"t","t":2.0125,"v":77},{"p":"t","t":2.0375,"v":82},{"p":"t","t":2.0625,"v":73},{"p":"t","t":2.0875,"v":72},{"p":"t","t":2.1125,"v":83},{"p":"t","t":2.1375,"v":69},{"p":"t","t":2.1625,"v":79},{"p":"t","t":2.1875,"v":84},{"p":"t","t":2.2125,"v":77},{"p":"t","t":2.2375,"v":86},{"p":"t","t":2.2625,"v":74},{"p":"t","t":2.2875,"v":85},{"p":"t","t":2.3125,"v":90},{"p":"t","t":2.3375,"v":83},{"p":"t","t":2.3625,"v":79},{"p":"t","t":2.3875,"v":93},{"p":"t","t":2.4125,"v":90},{"p":"t","t":2.4375,"v":83},{"p":"t","t":2.4625,"v":90},{"p":"t","t":2.4875,"v":83},{"p":"t","t":2.5125,"v":94},{"p":"t","t":2.5375,"v":99},{"p":"t","t":2.5625,"v":90},{"p":"t","t":2.5875,"v":89},{"p":"t","t":2.6125,"v":100},{"p":"t","t":2.6375,"v":86},{"p":"t","t":2.6625,"v":96},{"p":"t","t":2.6875,"v":101},{"p":"t","t":2.7125,"v":94},{"p":"t","t":2.7375,"v":103},{"p":"t","t":2.7625,"v":91},{"p":"t","t":2.7875,"v":102},{"p":"t","t":2.8125,"v":107},{"p":"t","t":2.8375,"v":101},{"p":"t","t":2.8625,"v":96},{"p":"t","t":2.8875,"v":110},{"p":"t","t":2.9125,"v":107},{"p":"t","t":2.9375,"v":100},{"p":"t","t":2.9625,"v":107},{"p":"t","t":2.9875,"v":100},

{"p":"b","t":0,"v":15},{"p":"b","t":0,"v":22},{"p":"b","t":0.01,"v":8},{"p":"b","t":0.02,"v":28},{"p":"b","t":0.02,"v":12},{"p":"b","t":0.03,"v":5},{"p":"b","t":0.03,"v":20},{"p":"b","t":0.04,"v":18},{"p":"b","t":0.05,"v":25},{"p":"b","t":0.06,"v":3},{"p":"b","t":0.06,"v":14},{"p":"b","t":0.07,"v":20},{"p":"b","t":0.08,"v":10},{"p":"b","t":0.08,"v":17},{"p":"b","t":0.09,"v":30},{"p":"b","t":0.1,"v":6},{"p":"b","t":0.1,"v":16},{"p":"b","t":0.11,"v":24},{"p":"b","t":0.12,"v":2},{"p":"b","t":0.13,"v":14},{"p":"b","t":0.13,"v":6},{"p":"b","t":0.14,"v":19},{"p":"b","t":0.15,"v":9},{"p":"b","t":0.16,"v":27},{"p":"b","t":0.17,"v":4},{"p":"b","t":0.18,"v":13},{"p":"b","t":0.18,"v":24},{"p":"b","t":0.19,"v":21},{"p":"b","t":0.2,"v":7},{"p":"b","t":0.21,"v":17},{"p":"b","t":0.22,"v":11},{"p":"b","t":0.23,"v":26},{"p":"b","t":0.23,"v":13},{"p":"b","t":0.24,"v":1},{"p":"b","t":0.25,"v":23},{"p":"b","t":0.26,"v":15},{"p":"b","t":0.27,"v":8},{"p":"b","t":0.27,"v":3},{"p":"b","t":0.28,"v":19},{"p":"b","t":0.29,"v":12},
{"p":"b","t":0.33,"v":57},{"p":"b","t":0.5,"v":60},{"p":"b","t":0.45,"v":47},{"p":"b","t":0.55,"v":44},{"p":"b","t":0.35,"v":45},{"p":"b","t":0.6,"v":40},{"p":"b","t":2.77,"v":107},{"p":"b","t":2.45,"v":100},{"p":"b","t":1.5,"v":68},{"p":"b","t":2.9,"v":103},
{"p":"b","t":0.3,"v":19},{"p":"b","t":0.325,"v":10},{"p":"b","t":0.35,"v":18},{"p":"b","t":0.375,"v":25},{"p":"b","t":0.4,"v":15},{"p":"b","t":0.425,"v":12},{"p":"b","t":0.45,"v":25},{"p":"b","t":0.475,"v":20},{"p":"b","t":0.5,"v":17},{"p":"b","t":0.525,"v":28},{"p":"b","t":0.55,"v":15},{"p":"b","t":0.575,"v":26},{"p":"b","t":0.6,"v":31},{"p":"b","t":0.625,"v":24},{"p":"b","t":0.65,"v":21},{"p":"b","t":0.675,"v":36},{"p":"b","t":0.7,"v":19},{"p":"b","t":0.725,"v":32},{"p":"b","t":0.75,"v":28},{"p":"b","t":0.775,"v":31},{"p":"b","t":0.8,"v":35},{"p":"b","t":0.825,"v":26},{"p":"b","t":0.85,"v":34},{"p":"b","t":0.875,"v":42},{"p":"b","t":0.9,"v":32},{"p":"b","t":0.925,"v":28},{"p":"b","t":0.95,"v":41},{"p":"b","t":0.975,"v":37},{"p":"b","t":1,"v":34},{"p":"b","t":1.025,"v":45},{"p":"b","t":1.05,"v":31},{"p":"b","t":1.075,"v":42},{"p":"b","t":1.1,"v":48},{"p":"b","t":1.125,"v":41},{"p":"b","t":1.15,"v":37},{"p":"b","t":1.175,"v":52},{"p":"b","t":1.2,"v":35},{"p":"b","t":1.225,"v":47},{"p":"b","t":1.25,"v":43},{"p":"b","t":1.275,"v":47},{"p":"b","t":1.3,"v":50},{"p":"b","t":1.325,"v":41},{"p":"b","t":1.35,"v":49},{"p":"b","t":1.375,"v":57},{"p":"b","t":1.4,"v":46},{"p":"b","t":1.425,"v":43},{"p":"b","t":1.45,"v":56},{"p":"b","t":1.475,"v":51},{"p":"b","t":1.5,"v":48},{"p":"b","t":1.525,"v":59},{"p":"b","t":1.55,"v":45},{"p":"b","t":1.575,"v":56},{"p":"b","t":1.6,"v":62},{"p":"b","t":1.625,"v":54},{"p":"b","t":1.65,"v":51},{"p":"b","t":1.675,"v":66},{"p":"b","t":1.7,"v":48},{"p":"b","t":1.725,"v":61},{"p":"b","t":1.75,"v":57},{"p":"b","t":1.775,"v":60},{"p":"b","t":1.8,"v":64},{"p":"b","t":1.825,"v":54},{"p":"b","t":1.85,"v":62},{"p":"b","t":1.875,"v":70},{"p":"b","t":1.9,"v":59},{"p":"b","t":1.925,"v":56},{"p":"b","t":1.95,"v":69},{"p":"b","t":1.975,"v":64},{"p":"b","t":2,"v":61},{"p":"b","t":2.025,"v":72},{"p":"b","t":2.05,"v":58},{"p":"b","t":2.075,"v":69},{"p":"b","t":2.1,"v":75},{"p":"b","t":2.125,"v":67},{"p":"b","t":2.15,"v":64},{"p":"b","t":2.175,"v":79},{"p":"b","t":2.2,"v":61},{"p":"b","t":2.225,"v":74},{"p":"b","t":2.25,"v":70},{"p":"b","t":2.275,"v":73},{"p":"b","t":2.3,"v":77},{"p":"b","t":2.325,"v":67},{"p":"b","t":2.35,"v":75},{"p":"b","t":2.375,"v":83},{"p":"b","t":2.4,"v":72},{"p":"b","t":2.425,"v":69},{"p":"b","t":2.45,"v":82},{"p":"b","t":2.475,"v":77},{"p":"b","t":2.5,"v":74},{"p":"b","t":2.525,"v":85},{"p":"b","t":2.55,"v":71},{"p":"b","t":2.575,"v":82},{"p":"b","t":2.6,"v":87},{"p":"b","t":2.625,"v":80},{"p":"b","t":2.65,"v":77},{"p":"b","t":2.675,"v":91},{"p":"b","t":2.7,"v":74},{"p":"b","t":2.725,"v":86},{"p":"b","t":2.75,"v":82},{"p":"b","t":2.775,"v":86},{"p":"b","t":2.8,"v":89},{"p":"b","t":2.825,"v":79},{"p":"b","t":2.85,"v":87},{"p":"b","t":2.875,"v":95},{"p":"b","t":2.9,"v":85},{"p":"b","t":2.925,"v":81},{"p":"b","t":2.95,"v":94},{"p":"b","t":2.975,"v":89},{"p":"b","t":3,"v":86},
{"p":"b","t":0.3375,"v":13},{"p":"b","t":0.3875,"v":23},{"p":"b","t":0.4375,"v":11},{"p":"b","t":0.4875,"v":23},{"p":"b","t":0.5375,"v":28},{"p":"b","t":0.5875,"v":23},{"p":"b","t":0.6375,"v":20},{"p":"b","t":0.6875,"v":34},{"p":"b","t":0.7375,"v":32},{"p":"b","t":0.7875,"v":26},{"p":"b","t":0.8375,"v":33},{"p":"b","t":0.8875,"v":27},{"p":"b","t":0.9375,"v":40},{"p":"b","t":0.9875,"v":46},{"p":"b","t":1.0375,"v":37},{"p":"b","t":1.0875,"v":36},{"p":"b","t":1.1375,"v":48},{"p":"b","t":1.1875,"v":34},{"p":"b","t":1.2375,"v":45},{"p":"b","t":1.2875,"v":51},{"p":"b","t":1.3375,"v":44},{"p":"b","t":1.3875,"v":54},{"p":"b","t":1.4375,"v":42},{"p":"b","t":1.4875,"v":54},{"p":"b","t":1.5375,"v":59},{"p":"b","t":1.5875,"v":53},{"p":"b","t":1.6375,"v":50},{"p":"b","t":1.6875,"v":64},{"p":"b","t":1.7375,"v":61},{"p":"b","t":1.7875,"v":54},{"p":"b","t":1.8375,"v":62},{"p":"b","t":1.8875,"v":55},{"p":"b","t":1.9375,"v":67},{"p":"b","t":1.9875,"v":73},{"p":"b","t":2.0375,"v":64},{"p":"b","t":2.0875,"v":63},{"p":"b","t":2.1375,"v":75},{"p":"b","t":2.1875,"v":61},{"p":"b","t":2.2375,"v":71},{"p":"b","t":2.2875,"v":77},{"p":"b","t":2.3375,"v":71},{"p":"b","t":2.3875,"v":80},{"p":"b","t":2.4375,"v":68},{"p":"b","t":2.4875,"v":80},{"p":"b","t":2.5375,"v":85},{"p":"b","t":2.5875,"v":79},{"p":"b","t":2.6375,"v":75},{"p":"b","t":2.6875,"v":90},{"p":"b","t":2.7375,"v":87},{"p":"b","t":2.7875,"v":80},{"p":"b","t":2.8375,"v":87},{"p":"b","t":2.8875,"v":80},{"p":"b","t":2.9375,"v":92},{"p":"b","t":2.9875,"v":98}
]
},
"bounds": "flush",
"spacing": 523.5,
"hconcat": [
 {
  "bounds": "flush",
  "spacing": 55.5,
  "vconcat": [
   {
    "width": 506, "height": 338,
    "encoding": {
      "x": {"field": "d", "type": "quantitative", "scale": {"domain": [2, 2.75], "nice": false, "zero": false},
            "axis": {"values": [2,2.1,2.2,2.3,2.4,2.5,2.6,2.7], "format": "~g", "title": "d-spacing (Angstrom)", "tickSize": 5, "labelPadding": 8, "labelFontSize": 14, "titleFontSize": 13, "titlePadding": 7, "labelFlush": false}},
      "y": {"field": "y", "type": "quantitative", "scale": {"domain": [0, 100.8], "nice": false, "zero": false},
            "axis": {"title": "Normalized log(intensity) + offset", "ticks": false, "labels": false, "titleFontSize": 14, "titlePadding": 6}}
    },
    "layer": [
      {"data": {"name": "curves"}, "transform": [{"filter": "datum.p == 'a'"}],
       "mark": {"type": "line", "interpolate": "monotone", "strokeWidth": 1.6, "clip": true},
       "encoding": {"color": {"field": "h", "type": "nominal", "scale": {"domain": [0,1,2,3], "range": ["#2b83c6","#e0393e","#8dc153","#8b67b0"]}, "legend": null}, "detail": {"field": "s", "type": "nominal"}}},
      {"data": {"name": "labels"}, "transform": [{"filter": "datum.p == 'a'"}],
       "mark": {"type": "text", "fontSize": 13, "lineHeight": 17, "lineBreak": "\n", "baseline": "middle"},
       "encoding": {"text": {"field": "txt"}}},
      {"data": {"name": "hrs"}, "transform": [{"filter": "datum.p == 'a'"}],
       "mark": {"type": "text", "fontSize": 13.5, "baseline": "middle"},
       "encoding": {"text": {"field": "txt"}}},
      {"data": {"name": "letters"}, "transform": [{"filter": "datum.p == 'a'"}],
       "mark": {"type": "text", "font": "Liberation Sans", "fontSize": 38, "fontWeight": "bold", "align": "left", "baseline": "alphabetic", "color": "#000"},
       "encoding": {"text": {"field": "txt"}}},
      {"data": {"name": "tbig"}, "transform": [{"filter": "datum.p == 'a'"}],
       "mark": {"type": "text", "fontSize": 30, "align": "left", "baseline": "alphabetic", "color": "#000"},
       "encoding": {"text": {"field": "txt"}}},
      {"data": {"name": "tsub"}, "transform": [{"filter": "datum.p == 'a'"}],
       "mark": {"type": "text", "fontSize": 19, "align": "left", "baseline": "alphabetic", "color": "#000"},
       "encoding": {"text": {"field": "txt"}}},
      {"data": {"name": "frame"},
       "mark": {"type": "rect", "filled": false, "stroke": "#000", "strokeWidth": 4},
       "encoding": {"x2": {"field": "d2"}, "y2": {"field": "y2"}}}
    ]
   },
   {
    "spacing": 0,
    "hconcat": [
     {"width": 94, "height": 1, "view": {"stroke": null}, "data": {"values": []}, "mark": "point"},
     {
      "spacing": -2,
      "vconcat": [
       {
        "width": 236, "height": 151,
        "encoding": {
          "x": {"field": "t", "type": "quantitative", "scale": {"domain": [0, 3.1], "nice": false}, "axis": {"values": [0,1,2,3], "format": "d", "title": null, "tickSize": 5, "labelPadding": 7, "labelFontSize": 13.5, "labelFlush": false}},
          "y": {"field": "v", "type": "quantitative", "scale": {"domain": [0, 140], "nice": false}, "axis": {"values": [0,20,40,60,80,100,120,140], "title": "Peak Intensity", "tickSize": 5, "labelPadding": 2, "labelFontSize": 13.5, "titleFontSize": 12.5, "titlePadding": 7}}
        },
        "layer": [
          {"data": {"name": "sc"}, "transform": [{"filter": "datum.p == 't'"}], "mark": {"type": "circle", "size": 12, "color": "#2a7fc4", "opacity": 1}},
          {"data": {"name": "sclab"}, "transform": [{"filter": "datum.p == 't'"}], "mark": {"type": "text", "fontSize": 19, "baseline": "alphabetic", "color": "#000"}, "encoding": {"text": {"field": "txt"}}}
        ]
       },
       {
        "width": 236, "height": 163,
        "encoding": {
          "x": {"field": "t", "type": "quantitative", "scale": {"domain": [0, 3.1], "nice": false}, "axis": {"values": [0,1,2,3], "format": "d", "title": "Time (Hrs)", "tickSize": 5, "labelPadding": 7, "labelFontSize": 13.5, "titleFontSize": 12, "titlePadding": 5, "labelFlush": false}},
          "y": {"field": "v", "type": "quantitative", "scale": {"domain": [0, 200], "nice": false}, "axis": {"values": [0,50,100,150,200], "title": "Peak Intensity", "tickSize": 5, "labelPadding": 2, "labelFontSize": 13.5, "titleFontSize": 12.5, "titlePadding": 7}}
        },
        "layer": [
          {"data": {"name": "sc"}, "transform": [{"filter": "datum.p == 'b'"}], "mark": {"type": "circle", "size": 12, "color": "#2a7fc4", "opacity": 1}},
          {"data": {"name": "sclab"}, "transform": [{"filter": "datum.p == 'b'"}], "mark": {"type": "text", "fontSize": 19, "baseline": "alphabetic", "color": "#000"}, "encoding": {"text": {"field": "txt"}}}
        ]
       }
      ]
     }
    ]
   }
  ]
 },
 {
  "spacing": 27,
  "vconcat": [
   {
    "width": 505, "height": 337,
    "encoding": {
      "x": {"field": "d", "type": "quantitative", "scale": {"domain": [2, 2.744], "nice": false, "zero": false},
            "axis": {"values": [2,2.1,2.2,2.3,2.4,2.5,2.6,2.7], "format": "~g", "title": "d-spacing (Angstrom)", "tickSize": 5, "labelPadding": 8, "labelFontSize": 14, "titleFontSize": 13, "titlePadding": 7, "labelFlush": false}},
      "y": {"field": "y", "type": "quantitative", "scale": {"domain": [0, 100.5], "nice": false, "zero": false},
            "axis": {"title": null, "ticks": false, "labels": false}}
    },
    "layer": [
      {"data": {"name": "curves"}, "transform": [{"filter": "datum.p == 'b'"}],
       "mark": {"type": "line", "interpolate": "monotone", "strokeWidth": 1.6, "clip": true},
       "encoding": {"color": {"field": "h", "type": "nominal", "scale": {"domain": [0,1,2,3], "range": ["#2b83c6","#e0393e","#8dc153","#8b67b0"]}, "legend": null}, "detail": {"field": "s", "type": "nominal"}}},
      {"data": {"name": "labels"}, "transform": [{"filter": "datum.p == 'b'"}],
       "mark": {"type": "text", "fontSize": 13, "lineHeight": 17, "lineBreak": "\n", "baseline": "middle"},
       "encoding": {"text": {"field": "txt"}}},
      {"data": {"name": "hrs"}, "transform": [{"filter": "datum.p == 'b'"}],
       "mark": {"type": "text", "fontSize": 13.5, "baseline": "middle"},
       "encoding": {"text": {"field": "txt"}}},
      {"data": {"name": "letters"}, "transform": [{"filter": "datum.p == 'b'"}],
       "mark": {"type": "text", "font": "Liberation Sans", "fontSize": 44, "fontWeight": "bold", "align": "left", "baseline": "alphabetic", "color": "#000"},
       "encoding": {"text": {"field": "txt"}}},
      {"data": {"name": "tbig"}, "transform": [{"filter": "datum.p == 'b'"}],
       "mark": {"type": "text", "fontSize": 30, "align": "left", "baseline": "alphabetic", "color": "#000"},
       "encoding": {"text": {"field": "txt"}}},
      {"data": {"name": "tsub"}, "transform": [{"filter": "datum.p == 'b'"}],
       "mark": {"type": "text", "fontSize": 19, "align": "left", "baseline": "alphabetic", "color": "#000"},
       "encoding": {"text": {"field": "txt"}}}
    ]
   },
   {
    "spacing": 0,
    "bounds": "flush",
    "hconcat": [
     {"width": 8, "height": 1, "view": {"stroke": null}, "data": {"values": []}, "mark": "point"},
     {
      "width": 497, "height": 335,
      "encoding": {
        "x": {"field": "d", "type": "quantitative", "scale": {"domain": [2, 2.732], "nice": false, "zero": false},
              "axis": {"values": [2,2.1,2.2,2.3,2.4,2.5,2.6,2.7], "format": "~g", "title": "d-spacing (Angstrom)", "tickSize": 5, "labelPadding": 8, "labelFontSize": 14, "titleFontSize": 13, "titlePadding": 7, "labelFlush": false}},
        "y": {"field": "y", "type": "quantitative", "scale": {"domain": [0, 100.4], "nice": false, "zero": false},
              "axis": {"title": "Normalized log(intensity) + offset", "ticks": false, "labels": false, "titleFontSize": 14, "titlePadding": 3}}
      },
      "layer": [
        {"data": {"name": "curves"}, "transform": [{"filter": "datum.p == 'c'"}],
         "mark": {"type": "line", "interpolate": "monotone", "strokeWidth": 1.6, "clip": true},
         "encoding": {"color": {"field": "h", "type": "nominal", "scale": {"domain": [0,1,2,3], "range": ["#2b83c6","#e0393e","#8dc153","#8b67b0"]}, "legend": null}, "detail": {"field": "s", "type": "nominal"}}},
        {"data": {"name": "labels"}, "transform": [{"filter": "datum.p == 'c'"}],
         "mark": {"type": "text", "fontSize": 13, "lineHeight": 17, "lineBreak": "\n", "baseline": "middle"},
         "encoding": {"text": {"field": "txt"}}},
        {"data": {"name": "hrs"}, "transform": [{"filter": "datum.p == 'c'"}],
         "mark": {"type": "text", "fontSize": 13.5, "baseline": "middle"},
         "encoding": {"text": {"field": "txt"}}},
        {"data": {"name": "letters"}, "transform": [{"filter": "datum.p == 'c'"}],
         "mark": {"type": "text", "font": "Liberation Sans", "fontSize": 40, "fontWeight": "bold", "align": "left", "baseline": "alphabetic", "color": "#000"},
         "encoding": {"text": {"field": "txt"}}},
        {"data": {"name": "tbig"}, "transform": [{"filter": "datum.p == 'c'"}],
         "mark": {"type": "text", "fontSize": 30, "align": "left", "baseline": "alphabetic", "color": "#000"},
         "encoding": {"text": {"field": "txt"}}},
        {"data": {"name": "tsub"}, "transform": [{"filter": "datum.p == 'c'"}],
         "mark": {"type": "text", "fontSize": 19, "align": "left", "baseline": "alphabetic", "color": "#000"},
         "encoding": {"text": {"field": "txt"}}}
      ]
     }
    ]
   }
  ]
 }
]
}
